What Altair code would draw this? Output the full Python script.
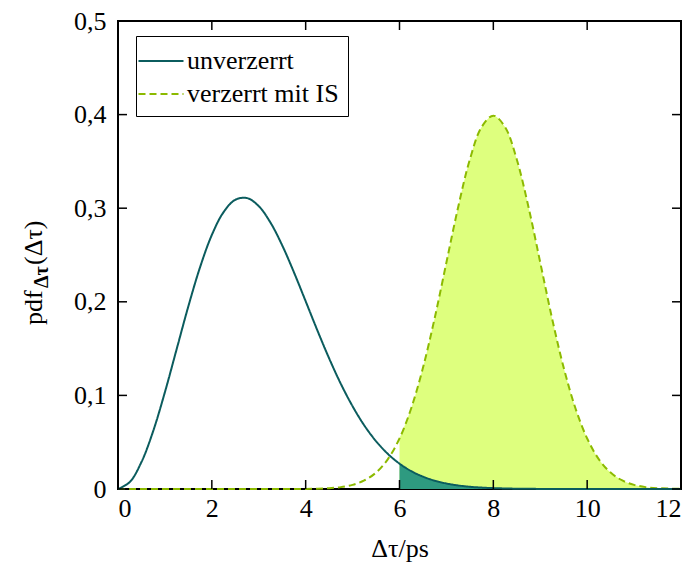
import altair as alt
import pandas as pd

# ---- data ----
x_vals = [0, 0.25, 0.5, 0.75, 1, 1.25, 1.5, 1.75, 2, 2.25, 2.5, 2.75, 3, 3.25, 3.5, 3.75,
          4, 4.25, 4.5, 4.75, 5, 5.25, 5.5, 5.75, 6, 6.25, 6.5, 6.75, 7, 7.25, 7.5, 7.75,
          8, 8.25, 8.5, 8.75, 9, 9.25, 9.5, 9.75, 10, 10.25, 10.5, 10.75, 11, 11.25, 11.5, 11.75, 12]
unverzerrt = [0, 0.0074, 0.0288, 0.0619, 0.1035, 0.1494, 0.1953, 0.2371, 0.2714, 0.2958, 0.3090, 0.3108,
              0.3022, 0.2846, 0.2603, 0.2315, 0.2006, 0.1694, 0.1396, 0.1123, 0.0884, 0.0679, 0.0511, 0.0376,
              0.0271, 0.0191, 0.0132, 0.0089, 0.0059, 0.0038, 0.0024, 0.0015, 0.0009, 0.0006, 0.0003, 0.0002,
              0.0001, 0, 0, 0, 0, 0, 0, 0, 0, 0, 0, 0, 0]
verzerrt = [0, 0, 0, 0, 0, 0, 0, 0, 0, 0, 0, 0, 0, 0, 0, 0,
            0.0001, 0.0004, 0.0009, 0.0020, 0.0044, 0.0091, 0.0175, 0.0317, 0.0540, 0.0863, 0.1295, 0.1826,
            0.2420, 0.3011, 0.3521, 0.3867, 0.3989, 0.3867, 0.3521, 0.3011, 0.2420, 0.1826, 0.1295, 0.0863,
            0.0540, 0.0317, 0.0175, 0.0091, 0.0044, 0.0020, 0.0009, 0.0004, 0.0001]
series_names = ["unverzerrt", "verzerrt mit IS"]
fill_start = 6
x_ticks = [0, 2, 4, 6, 8, 10, 12]
y_ticks = [0, 0.1, 0.2, 0.3, 0.4, 0.5]
y_title_parts = ["pdf", "Δτ", "(Δτ)"]
x_title = "Δτ/ps"

# ---- style ----
W, H = 563, 468
FONT = "Liberation Serif"
FS = 26
TEAL = "#0b5c5e"
TEAL_FILL = "#2e9a80"
GREEN = "#8cba00"
YELLOW = "#deff7e"
TICK = 9
INTERP = "catmull-rom"

n = len(x_vals)
df = pd.DataFrame({
    "x": x_vals + x_vals,
    "y": unverzerrt + verzerrt,
    "s": [series_names[0]] * n + [series_names[1]] * n,
})
xt = pd.DataFrame({"v": x_ticks})
yt = pd.DataFrame({"v": y_ticks})

xscale = alt.Scale(domain=[0, 12], nice=False, zero=False)
yscale = alt.Scale(domain=[0, 0.5], nice=False)
xaxis = alt.Axis(values=x_ticks, format="d", title=x_title, ticks=False, domain=False, grid=False,
                 labelPadding=6, titlePadding=14, labelFont=FONT, titleFont=FONT)
yaxis = alt.Axis(values=y_ticks, title=None, ticks=False, domain=False, grid=False, labelPadding=12,
                 labelFont=FONT,
                 labelExpr="datum.value == 0 ? '0' : replace(format(datum.value, '.1f'), '.', ',')")


def X(field):
    return alt.X(field, type="quantitative", scale=xscale, axis=xaxis)


def Y(field):
    return alt.Y(field, type="quantitative", scale=yscale, axis=yaxis)


legend = alt.Legend(title=None, orient="none", legendX=18, legendY=15, labelFont=FONT, labelFontSize=FS,
                    symbolType="M-1.5,0H1.5", symbolSize=900, symbolStrokeWidth=2, strokeColor="black",
                    fillColor="white", padding=9, rowPadding=4, labelOffset=10, labelLimit=400)
color = alt.Color("s:N", scale=alt.Scale(domain=series_names, range=[TEAL, GREEN]), legend=legend)
dash = alt.StrokeDash("s:N", scale=alt.Scale(domain=series_names, range=[[1, 0], [7, 4]]), legend=legend)

base = alt.Chart(df)

fill_is = base.mark_area(color=YELLOW, interpolate=INTERP).encode(x=X("x"), y=Y("y")).transform_filter(
    (alt.datum.s == series_names[1]) & (alt.datum.x >= fill_start))
fill_un = base.mark_area(color=TEAL_FILL, interpolate=INTERP).encode(x=X("x"), y=Y("y")).transform_filter(
    (alt.datum.s == series_names[0]) & (alt.datum.x >= fill_start))
line_is = base.mark_line(strokeWidth=2, interpolate=INTERP).encode(
    x=X("x"), y=Y("y"), color=color, strokeDash=dash).transform_filter(alt.datum.s == series_names[1])
line_un = base.mark_line(strokeWidth=2, interpolate=INTERP).encode(
    x=X("x"), y=Y("y"), color=color, strokeDash=dash).transform_filter(alt.datum.s == series_names[0])

tb = alt.Chart(xt).mark_rule(color="black", strokeWidth=1.5).encode(x=X("v"), y=alt.value(H), y2=alt.value(H - TICK))
tt = alt.Chart(xt).mark_rule(color="black", strokeWidth=1.5).encode(x=X("v"), y=alt.value(0), y2=alt.value(TICK))
tl = alt.Chart(yt).mark_rule(color="black", strokeWidth=1.5).encode(y=Y("v"), x=alt.value(0), x2=alt.value(TICK))
tr = alt.Chart(yt).mark_rule(color="black", strokeWidth=1.5).encode(y=Y("v"), x=alt.value(W), x2=alt.value(W - TICK))

t1 = alt.Chart(pd.DataFrame({"t": [y_title_parts[0]]})).mark_text(
    angle=270, align="left", baseline="alphabetic", font=FONT, fontSize=FS, color="black").encode(
    text="t:N", x=alt.value(-76), y=alt.value(304))
t2 = alt.Chart(pd.DataFrame({"t": [y_title_parts[1]]})).mark_text(
    angle=270, align="left", baseline="alphabetic", font=FONT, fontSize=20, fontWeight="bold", color="black").encode(
    text="t:N", x=alt.value(-70), y=alt.value(267))
t3 = alt.Chart(pd.DataFrame({"t": [y_title_parts[2]]})).mark_text(
    angle=270, align="left", baseline="alphabetic", font=FONT, fontSize=FS, color="black").encode(
    text="t:N", x=alt.value(-76), y=alt.value(244))

chart = alt.layer(fill_is, fill_un, line_is, line_un, tb, tt, tl, tr, t1, t2, t3).properties(
    width=W, height=H,
    autosize=alt.AutoSizeParams(type="none"),
    padding={"left": 110, "top": 13, "right": 5, "bottom": 78},
    background="white",
).configure_view(stroke="black", strokeWidth=2).configure_axis(
    labelFont=FONT, labelFontSize=FS, labelColor="black", titleFont=FONT, titleFontSize=FS,
    titleFontWeight="normal", titleColor="black")

chart.save("out.html", embed_options={"renderer": "svg", "actions": False})
